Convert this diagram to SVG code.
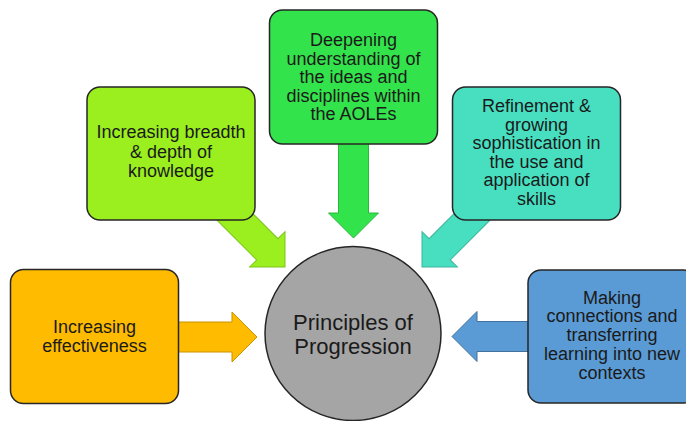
<svg xmlns="http://www.w3.org/2000/svg" width="686" height="421" viewBox="0 0 686 421">
<style>
.box{stroke:#262626;stroke-width:1.5}
.arr{stroke-width:1;stroke-linejoin:miter}
.t{font-family:"Liberation Sans",Arial,sans-serif;font-size:18px;fill:#1a1a1a;text-anchor:middle}
.tc{font-family:"Liberation Sans",Arial,sans-serif;font-size:22px;fill:#1a1a1a;text-anchor:middle}
</style>
<rect width="686" height="421" fill="#ffffff"/>
<g id="connectors">
  <path class="arr" fill="#9BEF1F" stroke="#7CC41A" transform="translate(285,267) rotate(45)" d="M0,0 L-25,-25 L-25,-15 L-90,-15 L-90,15 L-25,15 L-25,25 Z"/>
  <path class="arr" fill="#33E34B" stroke="#2AB83D" transform="translate(353.5,238) rotate(90)" d="M0,0 L-25,-25 L-25,-15 L-108,-15 L-108,15 L-25,15 L-25,25 Z"/>
  <path class="arr" fill="#48DFC1" stroke="#3AB69D" transform="translate(422,267) rotate(135)" d="M0,0 L-25,-25 L-25,-15 L-90,-15 L-90,15 L-25,15 L-25,25 Z"/>
  <path class="arr" fill="#FFBB00" stroke="#C99400" transform="translate(257,337)" d="M0,0 L-25,-25 L-25,-15 L-97,-15 L-97,15 L-25,15 L-25,25 Z"/>
  <path class="arr" fill="#5B9BD5" stroke="#41719C" transform="translate(452,336.5) rotate(180)" d="M0,0 L-25,-25 L-25,-15 L-93,-15 L-93,15 L-25,15 L-25,25 Z"/>
</g>
<g id="breadth">
  <rect class="box" x="87" y="87" width="168" height="133" rx="13" fill="#9BEF1F"/>
  <text class="t" x="171" y="138">Increasing breadth</text>
  <text class="t" x="171" y="157.5">&amp; depth of</text>
  <text class="t" x="171" y="177">knowledge</text>
</g>
<g id="deepening">
  <rect class="box" x="269.5" y="10" width="168" height="134" rx="13" fill="#33E34B"/>
  <text class="t" x="353.5" y="46">Deepening</text>
  <text class="t" x="353.5" y="64.6">understanding of</text>
  <text class="t" x="353.5" y="83.2">the ideas and</text>
  <text class="t" x="353.5" y="101.8">disciplines within</text>
  <text class="t" x="353.5" y="120.4">the AOLEs</text>
</g>
<g id="refinement">
  <rect class="box" x="452.5" y="87" width="168" height="133" rx="13" fill="#48DFC1"/>
  <text class="t" x="536.5" y="112">Refinement &amp;</text>
  <text class="t" x="536.5" y="130.6">growing</text>
  <text class="t" x="536.5" y="149.2">sophistication in</text>
  <text class="t" x="536.5" y="167.8">the use and</text>
  <text class="t" x="536.5" y="186.4">application of</text>
  <text class="t" x="536.5" y="205">skills</text>
</g>
<g id="effectiveness">
  <rect class="box" x="10.5" y="269.5" width="168" height="134" rx="13" fill="#FFBB00"/>
  <text class="t" x="94.5" y="333">Increasing</text>
  <text class="t" x="94.5" y="351.5">effectiveness</text>
</g>
<g id="connections">
  <rect class="box" x="528" y="270" width="168" height="133" rx="13" fill="#5B9BD5"/>
  <text class="t" x="612" y="303.5">Making</text>
  <text class="t" x="612" y="322.3">connections and</text>
  <text class="t" x="612" y="341.1">transferring</text>
  <text class="t" x="612" y="359.9">learning into new</text>
  <text class="t" x="612" y="378.7">contexts</text>
</g>
<g id="principles">
  <ellipse cx="353" cy="333.5" rx="88" ry="87" fill="#A5A5A5" stroke="#262626" stroke-width="1.5"/>
  <text class="tc" x="353" y="330">Principles of</text>
  <text class="tc" x="353" y="354">Progression</text>
</g>
</svg>
